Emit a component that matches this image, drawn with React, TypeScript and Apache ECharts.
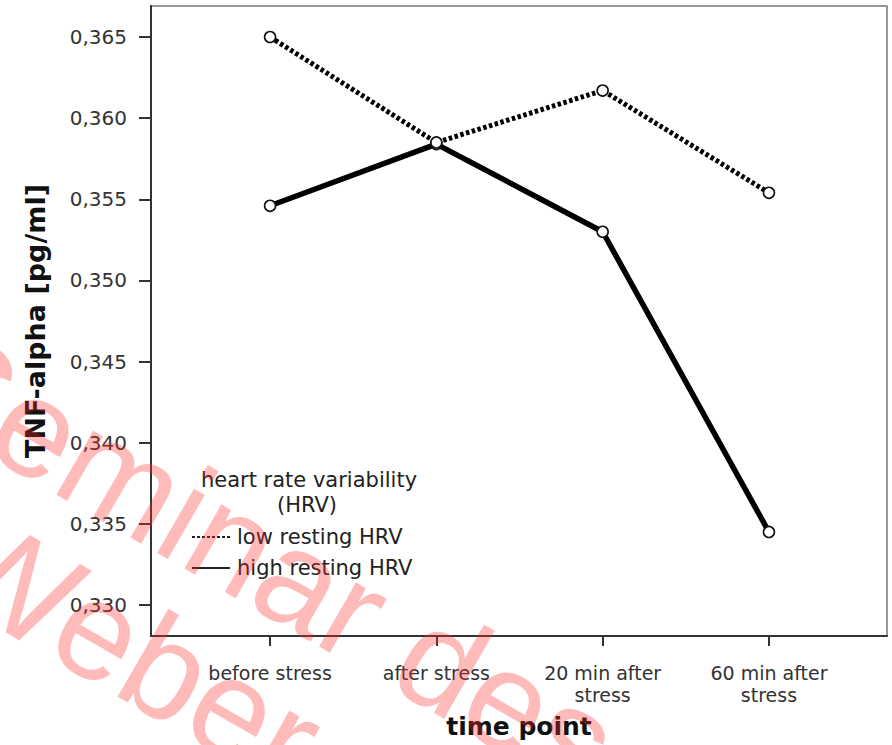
import React, { useEffect, useRef } from "react";
import * as echarts from "echarts";

const categories = ["before stress", "after stress", "20 min after\nstress", "60 min after\nstress"];
const lowHRV = [0.365, 0.3585, 0.3617, 0.3554];
const highHRV = [0.3546, 0.3584, 0.353, 0.3345];
const yTicks = [0.33, 0.335, 0.34, 0.345, 0.35, 0.355, 0.36, 0.365];
const seriesNames = ["low resting HRV", "high resting HRV"];
const legendTitle = ["heart rate variability", "(HRV)"];

const FONT = "DejaVu Sans";

export default function App() {
  const ref = useRef<HTMLDivElement>(null);
  useEffect(() => {
    if (!ref.current) return;
    const chart = echarts.init(ref.current, null, { renderer: "svg" });
    const rot = (-30 * Math.PI) / 180;
    const wm = "rgba(255,40,40,0.32)";
    const option: any = {
      animation: false,
      backgroundColor: "#fff",
      grid: {
        left: 151,
        top: 6,
        width: 736,
        height: 630,
        show: true,
        borderColor: "#777",
        borderWidth: 1.5,
        backgroundColor: "transparent",
      },
      xAxis: {
        type: "value",
        min: -0.716,
        max: 3.71,
        name: "time point",
        nameLocation: "middle",
        nameGap: 78,
        nameTextStyle: { fontFamily: FONT, fontSize: 25, fontWeight: "bold", color: "#111" },
        axisLine: { show: true, onZero: false, lineStyle: { color: "#333", width: 2 } },
        axisTick: { show: true, customValues: [0, 1, 2, 3], length: 10, lineStyle: { color: "#333", width: 2 } },
        axisLabel: {
          customValues: [0, 1, 2, 3],
          formatter: (v: number) => categories[Math.round(v)] ?? "",
          margin: 26,
          fontFamily: FONT,
          fontSize: 19,
          lineHeight: 22,
          color: "#333",
        },
        splitLine: { show: false },
      },
      yAxis: {
        type: "value",
        min: 0.32809,
        max: 0.36691,
        name: "TNF-alpha [pg/ml]",
        nameLocation: "middle",
        nameGap: 102,
        nameTextStyle: { fontFamily: FONT, fontSize: 27, fontWeight: "bold", color: "#111" },
        axisLine: { show: true, onZero: false, lineStyle: { color: "#333", width: 2 } },
        axisTick: { show: true, customValues: yTicks, length: 12, lineStyle: { color: "#333", width: 2 } },
        axisLabel: {
          customValues: yTicks,
          formatter: (v: number) => v.toFixed(3).replace(".", ","),
          margin: 24,
          fontFamily: FONT,
          fontSize: 20,
          color: "#333",
        },
        splitLine: { show: false },
      },
      series: [
        {
          name: seriesNames[0],
          type: "line",
          data: lowHRV.map((v, i) => [i, v]),
          symbol: "circle",
          symbolSize: 11,
          showAllSymbol: true,
          itemStyle: { color: "#fff", borderColor: "#111", borderWidth: 1.6 },
          lineStyle: { color: "#000", width: 5, type: [3.5, 2.5], cap: "butt" },
          z: 3,
        },
        {
          name: seriesNames[1],
          type: "line",
          data: highHRV.map((v, i) => [i, v]),
          symbol: "circle",
          symbolSize: 11,
          showAllSymbol: true,
          itemStyle: { color: "#fff", borderColor: "#111", borderWidth: 1.6 },
          lineStyle: { color: "#000", width: 5.5 },
          z: 2,
        },
      ],
      graphic: [
        {
          type: "text",
          x: 309,
          y: 480,
          style: { text: legendTitle[0], fontFamily: FONT, fontSize: 21, fill: "#222", align: "center", verticalAlign: "middle" },
        },
        {
          type: "text",
          x: 307,
          y: 505,
          style: { text: legendTitle[1], fontFamily: FONT, fontSize: 21, fill: "#222", align: "center", verticalAlign: "middle" },
        },
        {
          type: "line",
          shape: { x1: 192, y1: 537, x2: 230, y2: 537 },
          style: { stroke: "#222", lineWidth: 2, lineDash: [3, 2] },
        },
        {
          type: "text",
          x: 237,
          y: 537,
          style: { text: seriesNames[0], fontFamily: FONT, fontSize: 21, fill: "#222", align: "left", verticalAlign: "middle" },
        },
        {
          type: "line",
          shape: { x1: 192, y1: 568, x2: 230, y2: 568 },
          style: { stroke: "#222", lineWidth: 2 },
        },
        {
          type: "text",
          x: 237,
          y: 568,
          style: { text: seriesNames[1], fontFamily: FONT, fontSize: 21, fill: "#222", align: "left", verticalAlign: "middle" },
        },
        {
          type: "text",
          x: -111,
          y: 423,
          rotation: rot,
          z: 100,
          style: { text: "Seminar des", fontFamily: "Liberation Sans", fontSize: 140, fill: wm, align: "left", verticalAlign: "bottom" },
        },
        {
          type: "text",
          x: -81,
          y: 607,
          rotation: rot,
          z: 100,
          style: { text: "Weber", fontFamily: "Liberation Sans", fontSize: 140, fill: wm, align: "left", verticalAlign: "bottom" },
        },
      ],
    };
    chart.setOption(option);
    return () => chart.dispose();
  }, []);
  return (
    <div
      ref={ref}
      style={{ position: "fixed", left: 0, top: 0, width: 892, height: 745, background: "#fff" }}
    />
  );
}
